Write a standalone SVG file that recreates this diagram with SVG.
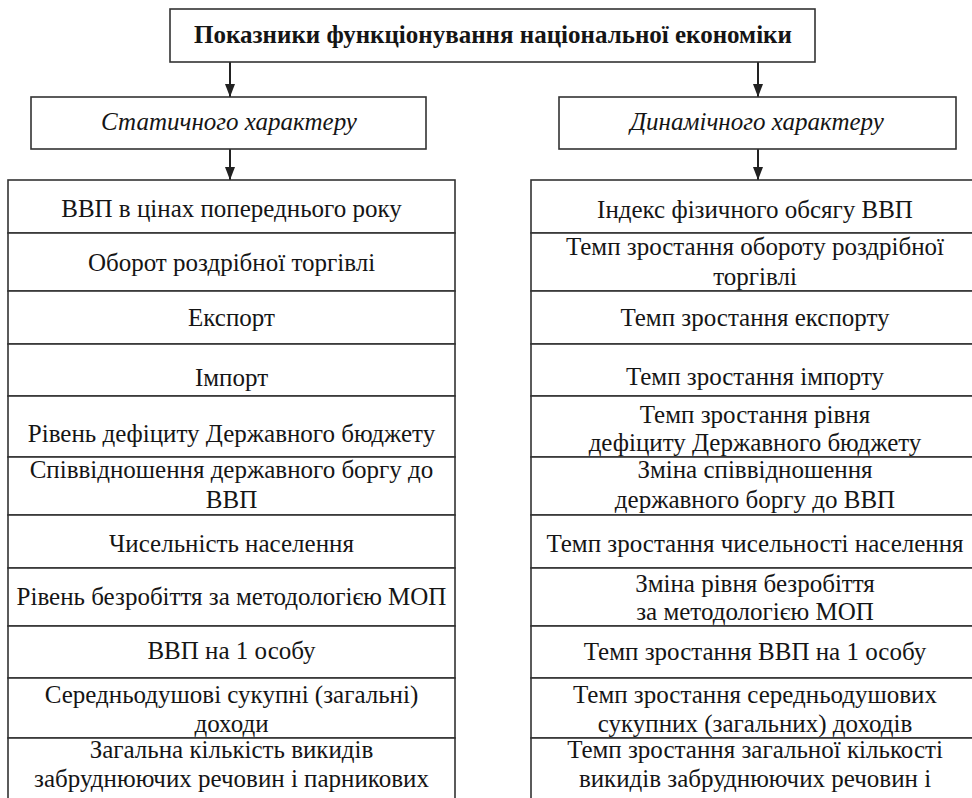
<svg xmlns="http://www.w3.org/2000/svg" width="972" height="798" viewBox="0 0 972 798">
<defs>
<style>
.box{fill:#fff;stroke:#333;stroke-width:1.6}
.t{font-family:"Liberation Serif","DejaVu Serif",serif;font-size:25px;fill:#151515;text-anchor:middle}
.b{font-weight:bold}
.i{font-style:italic}
.conn{stroke:#222;stroke-width:2;fill:none}
</style>
<marker id="ah" viewBox="0 0 13 10" refX="13" refY="5" markerWidth="13" markerHeight="10" markerUnits="userSpaceOnUse" orient="auto">
<path d="M0,0 L13,5 L0,10 z" fill="#222"/>
</marker>
</defs>
<rect width="972" height="798" fill="#fff"/>

<g id="connectors">
<line class="conn" x1="230" y1="62" x2="230" y2="97" marker-end="url(#ah)"/>
<line class="conn" x1="758" y1="62" x2="758" y2="97" marker-end="url(#ah)"/>
<line class="conn" x1="230" y1="149" x2="230" y2="180" marker-end="url(#ah)"/>
<line class="conn" x1="758" y1="149" x2="758" y2="180" marker-end="url(#ah)"/>
</g>

<g id="title">
<rect class="box" x="170" y="9" width="645" height="53"/>
<text class="t b" x="493" y="43">Показники функціонування національної економіки</text>
</g>

<g id="static">
<rect class="box" x="31" y="97" width="395" height="52"/>
<text class="t i" x="229" y="130">Статичного характеру</text>
</g>

<g id="dynamic">
<rect class="box" x="559" y="97" width="397" height="52"/>
<text class="t i" x="757" y="130">Динамічного характеру</text>
</g>

<g id="left-table">
<g id="l1"><rect class="box" x="8" y="180" width="447" height="53"/><text class="t" x="231.5" y="217">ВВП в цінах попереднього року</text></g>
<g id="l2"><rect class="box" x="8" y="233" width="447" height="58"/><text class="t" x="231.5" y="271">Оборот роздрібної торгівлі</text></g>
<g id="l3"><rect class="box" x="8" y="291" width="447" height="53"/><text class="t" x="231.5" y="326">Експорт</text></g>
<g id="l4"><rect class="box" x="8" y="344" width="447" height="52"/><text class="t" x="231.5" y="386">Імпорт</text></g>
<g id="l5"><rect class="box" x="8" y="396" width="447" height="61"/><text class="t" x="231.5" y="442">Рівень дефіциту Державного бюджету</text></g>
<g id="l6"><rect class="box" x="8" y="457" width="447" height="58"/><text class="t" x="231.5" y="478">Співвідношення державного боргу до</text><text class="t" x="231.5" y="508">ВВП</text></g>
<g id="l7"><rect class="box" x="8" y="515" width="447" height="53"/><text class="t" x="231.5" y="552">Чисельність населення</text></g>
<g id="l8"><rect class="box" x="8" y="568" width="447" height="58"/><text class="t" x="231.5" y="605">Рівень безробіття за методологією МОП</text></g>
<g id="l9"><rect class="box" x="8" y="626" width="447" height="52"/><text class="t" x="231.5" y="659">ВВП на 1 особу</text></g>
<g id="l10"><rect class="box" x="8" y="678" width="447" height="60"/><text class="t" x="231.5" y="703">Середньодушові сукупні (загальні)</text><text class="t" x="231.5" y="732">доходи</text></g>
<g id="l11"><rect class="box" x="8" y="738" width="447" height="100"/><text class="t" x="231.5" y="758">Загальна кількість викидів</text><text class="t" x="231.5" y="787">забруднюючих речовин і парникових</text></g>
</g>

<g id="right-table">
<g id="r1"><rect class="box" x="531" y="180" width="448" height="53"/><text class="t" x="755" y="218">Індекс фізичного обсягу ВВП</text></g>
<g id="r2"><rect class="box" x="531" y="233" width="448" height="58"/><text class="t" x="755" y="255">Темп зростання обороту роздрібної</text><text class="t" x="755" y="285">торгівлі</text></g>
<g id="r3"><rect class="box" x="531" y="291" width="448" height="53"/><text class="t" x="755" y="326">Темп зростання експорту</text></g>
<g id="r4"><rect class="box" x="531" y="344" width="448" height="52"/><text class="t" x="755" y="385">Темп зростання імпорту</text></g>
<g id="r5"><rect class="box" x="531" y="396" width="448" height="61"/><text class="t" x="755" y="423">Темп зростання рівня</text><text class="t" x="755" y="451">дефіциту Державного бюджету</text></g>
<g id="r6"><rect class="box" x="531" y="457" width="448" height="58"/><text class="t" x="755" y="478">Зміна співвідношення</text><text class="t" x="755" y="508">державного боргу до ВВП</text></g>
<g id="r7"><rect class="box" x="531" y="515" width="448" height="53"/><text class="t" x="755" y="552">Темп зростання чисельності населення</text></g>
<g id="r8"><rect class="box" x="531" y="568" width="448" height="58"/><text class="t" x="755" y="592">Зміна рівня безробіття</text><text class="t" x="755" y="620">за методологією МОП</text></g>
<g id="r9"><rect class="box" x="531" y="626" width="448" height="52"/><text class="t" x="755" y="660">Темп зростання ВВП на 1 особу</text></g>
<g id="r10"><rect class="box" x="531" y="678" width="448" height="60"/><text class="t" x="755" y="703">Темп зростання середньодушових</text><text class="t" x="755" y="732">сукупних (загальних) доходів</text></g>
<g id="r11"><rect class="box" x="531" y="738" width="448" height="100"/><text class="t" x="755" y="758">Темп зростання загальної кількості</text><text class="t" x="755" y="787">викидів забруднюючих речовин і</text></g>
</g>
</svg>
